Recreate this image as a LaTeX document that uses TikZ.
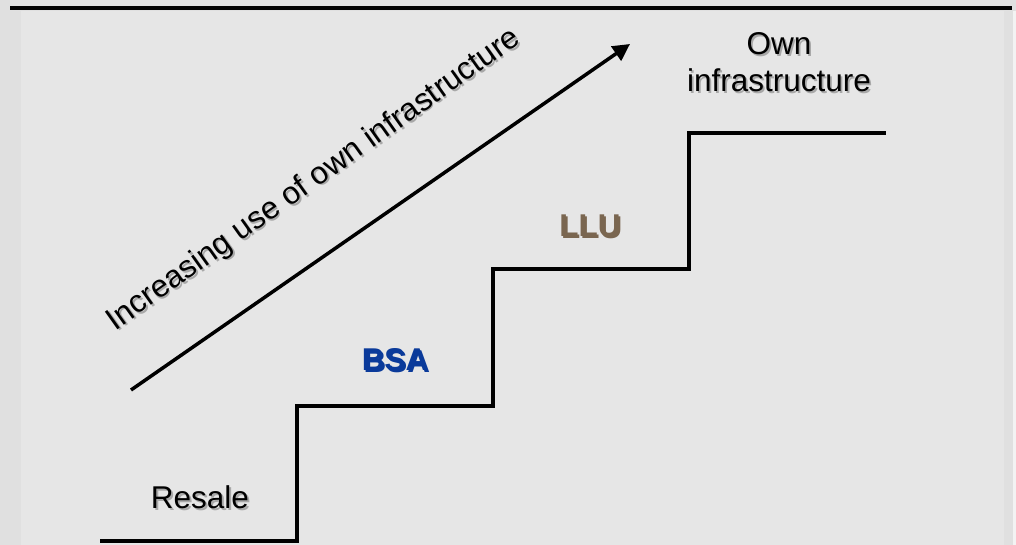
\documentclass[tikz,border=0pt]{standalone}
\usepackage{fontspec}
\setmainfont{Liberation Sans}
\definecolor{outerbg}{HTML}{E0E0E0}
\definecolor{innerbg}{HTML}{E6E6E6}
\definecolor{llubrown}{HTML}{7A6650}
\definecolor{bsablue}{HTML}{0A3A9A}
\definecolor{shadowgray}{HTML}{A8A8A8}
\tikzset{
  lbl/.style={font=\fontsize{31.5}{37}\selectfont, align=center, inner sep=0pt},
  shd/.style={lbl, text=shadowgray},
}
\newcommand{\shadowlabel}[4]{%
  \node[shd, #2] at ($(#1)+(1.8,1.8)$) {#4};
  \node[lbl, #2] (#3) at (#1) {#4};
}
\usetikzlibrary{calc,arrows.meta}
\begin{document}
\begin{tikzpicture}[x=1pt,y=-1pt]
\useasboundingbox (0,0) rectangle (1016,545);
\fill[outerbg] (0,0) rectangle (1016,545);
\fill[innerbg] (21,11) rectangle (1004,545);
\fill[white!60!outerbg] (1013,11) rectangle (1016,545);
\draw[line width=4pt] (10,8) -- (1012,8);
% stairs
\coordinate (s0) at (100,541);
\coordinate (s1) at (297,541);
\coordinate (s2) at (297,406);
\coordinate (s3) at (493,406);
\coordinate (s4) at (493,269);
\coordinate (s5) at (689,269);
\coordinate (s6) at (689,133);
\coordinate (s7) at (886,133);
\draw[line width=4pt] (s0) -- (s1) -- (s2) -- (s3) -- (s4) -- (s5) -- (s6) -- (s7);
% arrow
\coordinate (a0) at (131,390);
\coordinate (a1) at (630,44);
\draw[line width=3.5pt, -{Triangle[length=17pt,width=17pt]}] (a0) -- (a1);
% rotated text
\node[shd, rotate=35.4] at (315.8,181.8) {Increasing use of own infrastructure};
\node[lbl, rotate=35.4] (inc) at (314,180) {Increasing use of own infrastructure};
% labels
\shadowlabel{200,497}{}{resale}{Resale}
\shadowlabel{395,360}{font=\fontsize{31.5}{37}\selectfont\bfseries, text=bsablue}{bsa}{BSA}
\shadowlabel{590,226}{font=\fontsize{31.5}{37}\selectfont\bfseries, text=llubrown}{llu}{LLU}
\shadowlabel{779,62}{}{own}{Own\\infrastructure}
\end{tikzpicture}
\end{document}
